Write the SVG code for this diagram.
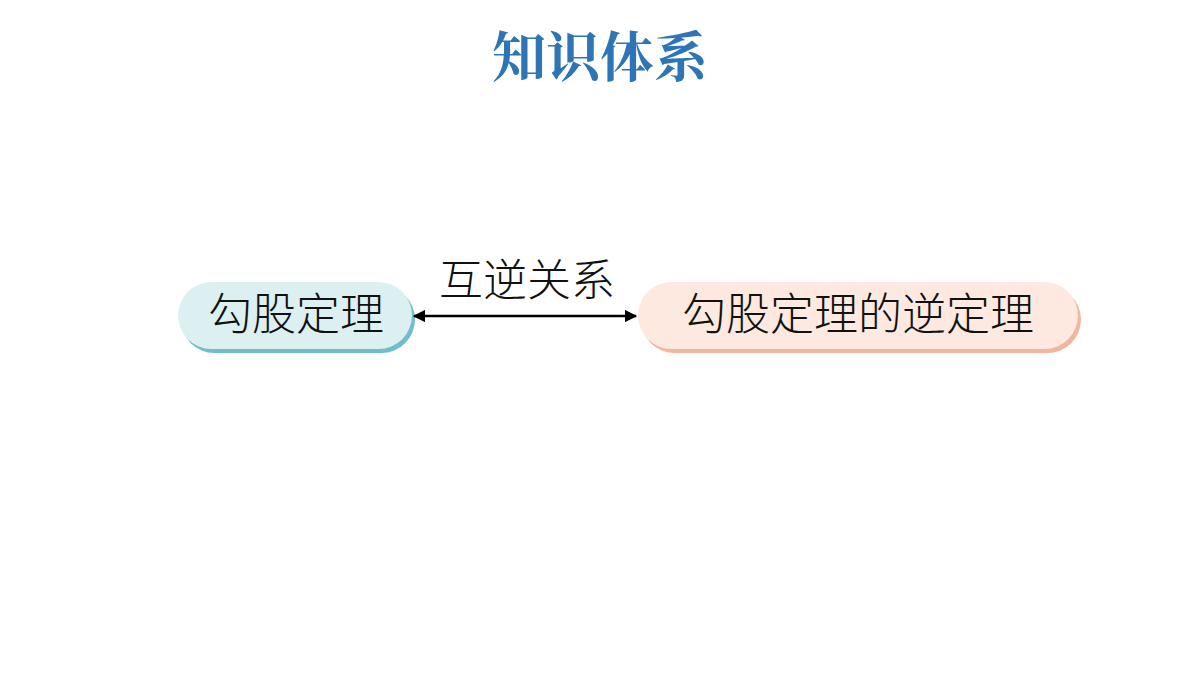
<svg xmlns="http://www.w3.org/2000/svg" width="1200" height="675" viewBox="0 0 1200 675">
<style>
.t{font-family:"Noto Sans CJK SC",sans-serif;font-size:44px;font-weight:300;fill:#111;text-anchor:middle}
.title{font-family:"Noto Serif CJK SC","Noto Sans CJK SC",sans-serif;font-size:54px;font-weight:bold;fill:#2e75b6;text-anchor:middle}
</style>
<defs>
<marker id="a" viewBox="0 0 10 10" refX="9" refY="5" markerWidth="5" markerHeight="5" orient="auto-start-reverse"><path d="M0,0L10,5L0,10z" fill="#000"/></marker>
</defs>
<rect width="1200" height="675" fill="#fff"/>
<text class="title" x="600" y="77">知识体系</text>
<g id="n1">
<rect x="181" y="286" width="234" height="67" rx="33.5" fill="#6fbfca"/>
<rect x="178" y="282" width="234" height="67" rx="33.5" fill="#dcf0f2"/>
<text class="t" x="296" y="330">勾股定理</text>
</g>
<g id="n2">
<rect x="641" y="286" width="440" height="67" rx="33.5" fill="#f4b59e"/>
<rect x="638" y="282" width="440" height="67" rx="33.5" fill="#fde9e0"/>
<text class="t" x="858" y="330">勾股定理的逆定理</text>
</g>
<g id="connectors">
<line x1="414" y1="316" x2="636" y2="316" stroke="#000" stroke-width="2.5" marker-start="url(#a)" marker-end="url(#a)"/>
<text class="t" x="527" y="296">互逆关系</text>
</g>
</svg>
